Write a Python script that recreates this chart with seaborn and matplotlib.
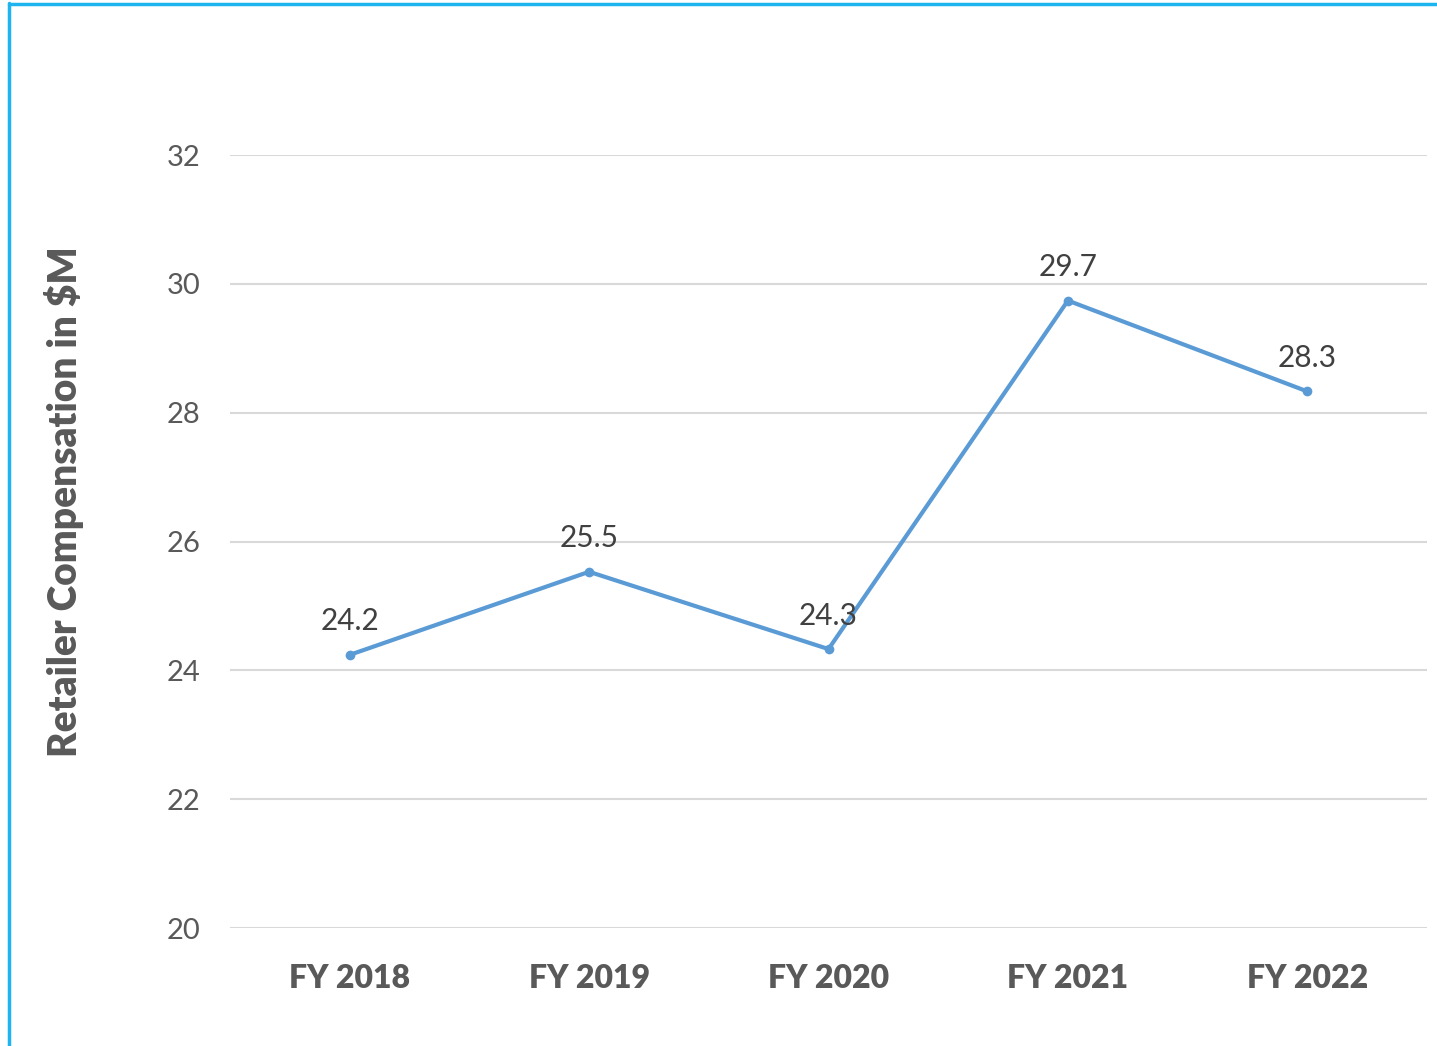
import matplotlib
matplotlib.use('Agg')
import matplotlib.pyplot as plt
import seaborn as sns
import pandas as pd

years = ['FY 2018', 'FY 2019', 'FY 2020', 'FY 2021', 'FY 2022']
compensation = [24.24, 25.53, 24.33, 29.74, 28.33]
yticks = [20, 22, 24, 26, 28, 30, 32]

df = pd.DataFrame({'year': years, 'comp': compensation})

sns.set_style('white')
plt.rcParams['font.family'] = ['Lato', 'DejaVu Sans']

fig = plt.figure(figsize=(14.37, 10.46), dpi=100)
ax = fig.add_axes([230 / 1437, 1 - 928 / 1046, (1427 - 230) / 1437, (928 - 155) / 1046])

line_col = '#5B9BD5'
sns.lineplot(data=df, x='year', y='comp', ax=ax, color=line_col, linewidth=3,
             marker='o', markersize=7, markeredgewidth=0, sort=False)

for i, v in enumerate(compensation):
    ax.annotate(f'{v:.1f}', (i, v), xytext=(0, 14), textcoords='offset points',
                ha='center', va='bottom', fontsize=21.5, color='#404040')

ax.set_xlim(-0.5, 4.5)
ax.set_ylim(20, 32)
ax.set_yticks(yticks)
ax.grid(axis='y', color='#D9D9D9', linewidth=1.5)
ax.grid(axis='x', visible=False)
for s in ax.spines.values():
    s.set_visible(False)
ax.tick_params(axis='y', length=0, pad=21, labelsize=21, labelcolor='#595959')
ax.tick_params(axis='x', length=0, pad=26, labelsize=23, labelcolor='#595959')
for t in ax.get_xticklabels():
    t.set_fontweight('heavy')
ax.set_xlabel('')
ax.set_ylabel('Retailer Compensation in $M', fontsize=28, fontweight='heavy',
              color='#595959')
ax.yaxis.set_label_coords(-0.122, 0.551)

# light blue border lines on the left and top
fig.add_artist(plt.Line2D([9 / 1437, 9 / 1437], [0, 1 - 3 / 1046], color='#1EB4EE',
                          linewidth=2.5, transform=fig.transFigure))
fig.add_artist(plt.Line2D([9 / 1437, 1], [1 - 4 / 1046, 1 - 4 / 1046], color='#1EB4EE',
                          linewidth=2.5, transform=fig.transFigure))

fig.savefig('out.png', dpi=100)
